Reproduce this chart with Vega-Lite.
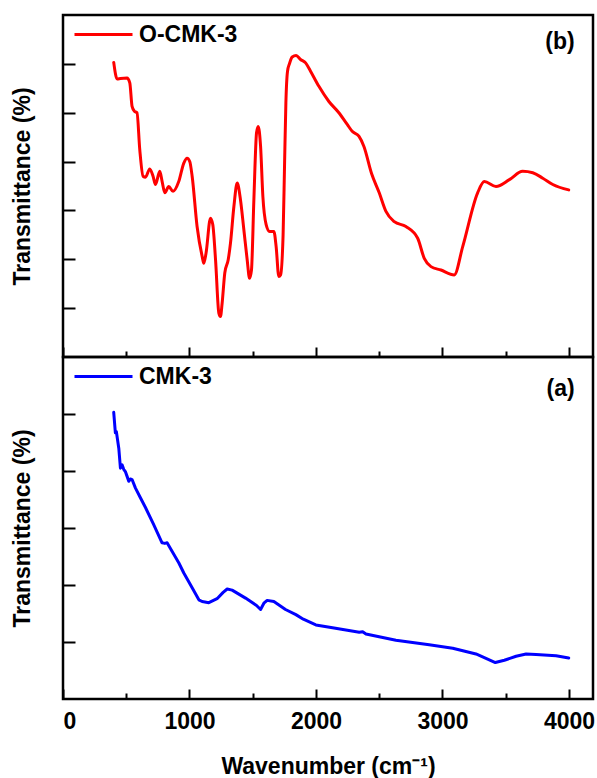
{
  "$schema": "https://vega.github.io/schema/vega-lite/v6.json",
  "padding": {"left": 9, "top": 2, "right": 2, "bottom": 2},
  "config": {
    "font": "Liberation Sans",
    "view": {"stroke": "black", "strokeWidth": 2.5},
    "axis": {"grid": false, "domain": false, "tickColor": "black", "tickWidth": 2, "labelColor": "black", "titleColor": "black", "labelFont": "Liberation Sans", "titleFont": "Liberation Sans", "labelFontWeight": "bold", "titleFontWeight": "bold", "labelFontSize": 23, "titleFontSize": 23},
    "legend": {"orient": "none", "title": null, "symbolType": "stroke", "symbolSize": 3364, "symbolStrokeWidth": 3, "labelFont": "Liberation Sans", "labelFontWeight": "bold", "labelFontSize": 23, "labelColor": "black", "labelOffset": 5, "legendX": 10, "legendY": -11}
  },
  "datasets": {
    "red": [
      {"wn": 401, "t": 5.03}, {"wn": 428, "t": 4.69}, {"wn": 454, "t": 4.7}, {"wn": 506, "t": 4.71}, {"wn": 528, "t": 4.61},
      {"wn": 546, "t": 4.13}, {"wn": 565, "t": 4.03}, {"wn": 585, "t": 4.0}, {"wn": 607, "t": 3.24}, {"wn": 633, "t": 2.7},
      {"wn": 652, "t": 2.68}, {"wn": 686, "t": 2.85}, {"wn": 712, "t": 2.7}, {"wn": 731, "t": 2.53}, {"wn": 765, "t": 2.8},
      {"wn": 783, "t": 2.6}, {"wn": 805, "t": 2.36}, {"wn": 836, "t": 2.49}, {"wn": 870, "t": 2.39}, {"wn": 915, "t": 2.59},
      {"wn": 955, "t": 2.97}, {"wn": 981, "t": 3.07}, {"wn": 1002, "t": 3.0}, {"wn": 1021, "t": 2.7}, {"wn": 1060, "t": 1.67},
      {"wn": 1100, "t": 1.06}, {"wn": 1113, "t": 0.92}, {"wn": 1131, "t": 1.13}, {"wn": 1166, "t": 1.84}, {"wn": 1184, "t": 1.71},
      {"wn": 1206, "t": 0.99}, {"wn": 1232, "t": -0.1}, {"wn": 1245, "t": -0.17}, {"wn": 1258, "t": 0.1}, {"wn": 1279, "t": 0.72},
      {"wn": 1306, "t": 0.99}, {"wn": 1324, "t": 1.33}, {"wn": 1351, "t": 2.08}, {"wn": 1377, "t": 2.56}, {"wn": 1403, "t": 2.22},
      {"wn": 1430, "t": 1.6}, {"wn": 1456, "t": 0.99}, {"wn": 1475, "t": 0.61}, {"wn": 1490, "t": 0.78}, {"wn": 1509, "t": 2.22},
      {"wn": 1530, "t": 3.59}, {"wn": 1543, "t": 3.72}, {"wn": 1562, "t": 3.31}, {"wn": 1580, "t": 2.29}, {"wn": 1606, "t": 1.71},
      {"wn": 1633, "t": 1.57}, {"wn": 1667, "t": 1.57}, {"wn": 1685, "t": 1.26}, {"wn": 1706, "t": 0.65}, {"wn": 1720, "t": 0.68},
      {"wn": 1740, "t": 1.5}, {"wn": 1752, "t": 3.0}, {"wn": 1762, "t": 4.2}, {"wn": 1775, "t": 4.85}, {"wn": 1790, "t": 5.0},
      {"wn": 1812, "t": 5.14}, {"wn": 1843, "t": 5.17}, {"wn": 1878, "t": 5.09}, {"wn": 1918, "t": 5.02}, {"wn": 1957, "t": 4.85},
      {"wn": 2023, "t": 4.54}, {"wn": 2102, "t": 4.23}, {"wn": 2181, "t": 4.0}, {"wn": 2247, "t": 3.76}, {"wn": 2286, "t": 3.62},
      {"wn": 2339, "t": 3.52}, {"wn": 2379, "t": 3.31}, {"wn": 2440, "t": 2.75}, {"wn": 2500, "t": 2.36}, {"wn": 2553, "t": 1.98},
      {"wn": 2619, "t": 1.77}, {"wn": 2711, "t": 1.67}, {"wn": 2804, "t": 1.43}, {"wn": 2856, "t": 1.02}, {"wn": 2909, "t": 0.85},
      {"wn": 2988, "t": 0.78}, {"wn": 3093, "t": 0.68}, {"wn": 3160, "t": 1.26}, {"wn": 3278, "t": 2.36}, {"wn": 3331, "t": 2.59},
      {"wn": 3423, "t": 2.49}, {"wn": 3529, "t": 2.63}, {"wn": 3634, "t": 2.8}, {"wn": 3714, "t": 2.77}, {"wn": 3793, "t": 2.66},
      {"wn": 3872, "t": 2.53}, {"wn": 3998, "t": 2.42}
    ],
    "blue": [
      {"wn": 401, "t": 4.03}, {"wn": 414, "t": 3.67}, {"wn": 422, "t": 3.69}, {"wn": 441, "t": 3.4}, {"wn": 454, "t": 3.05},
      {"wn": 467, "t": 3.11}, {"wn": 480, "t": 3.03}, {"wn": 493, "t": 2.99}, {"wn": 506, "t": 2.91}, {"wn": 520, "t": 2.82},
      {"wn": 533, "t": 2.86}, {"wn": 546, "t": 2.85}, {"wn": 573, "t": 2.7}, {"wn": 612, "t": 2.53}, {"wn": 652, "t": 2.36},
      {"wn": 717, "t": 2.06}, {"wn": 783, "t": 1.74}, {"wn": 805, "t": 1.73}, {"wn": 823, "t": 1.74}, {"wn": 862, "t": 1.59},
      {"wn": 915, "t": 1.39}, {"wn": 955, "t": 1.21}, {"wn": 1021, "t": 0.95}, {"wn": 1074, "t": 0.74}, {"wn": 1100, "t": 0.71},
      {"wn": 1153, "t": 0.69}, {"wn": 1218, "t": 0.76}, {"wn": 1266, "t": 0.87}, {"wn": 1298, "t": 0.93}, {"wn": 1337, "t": 0.91},
      {"wn": 1443, "t": 0.77}, {"wn": 1530, "t": 0.64}, {"wn": 1562, "t": 0.57}, {"wn": 1588, "t": 0.68}, {"wn": 1614, "t": 0.73},
      {"wn": 1667, "t": 0.71}, {"wn": 1759, "t": 0.57}, {"wn": 1841, "t": 0.48}, {"wn": 1900, "t": 0.4}, {"wn": 1999, "t": 0.3},
      {"wn": 2131, "t": 0.25}, {"wn": 2342, "t": 0.17}, {"wn": 2369, "t": 0.18}, {"wn": 2395, "t": 0.14}, {"wn": 2632, "t": 0.03},
      {"wn": 2895, "t": -0.05}, {"wn": 3081, "t": -0.11}, {"wn": 3265, "t": -0.21}, {"wn": 3357, "t": -0.3}, {"wn": 3418, "t": -0.36},
      {"wn": 3489, "t": -0.32}, {"wn": 3582, "t": -0.25}, {"wn": 3661, "t": -0.21}, {"wn": 3740, "t": -0.22}, {"wn": 3898, "t": -0.24},
      {"wn": 3998, "t": -0.28}
    ]
  },
  "bounds": "flush",
  "spacing": 0,
  "vconcat": [
    {
      "width": 530,
      "height": 342,
      "layer": [
        {
          "data": {"name": "red"},
          "mark": {"type": "line", "strokeWidth": 3, "interpolate": "monotone", "strokeJoin": "round", "strokeCap": "round"},
          "encoding": {
            "x": {"field": "wn", "type": "quantitative", "scale": {"domain": [0, 4190], "nice": false},
                  "axis": {"title": null, "labels": false, "values": [0, 500, 1000, 1500, 2000, 2500, 3000, 3500, 4000],
                           "tickSize": {"condition": {"test": "datum.value % 1000 === 0", "value": -10}, "value": -6}}},
            "y": {"field": "t", "type": "quantitative", "scale": {"domain": [-1, 6], "nice": false, "zero": false},
                  "axis": {"title": "Transmittance (%)", "labels": false, "values": [0, 1, 2, 3, 4, 5], "tickSize": 12, "offset": -12, "titlePadding": 28}},
            "color": {"datum": "O-CMK-3", "type": "nominal", "scale": {"domain": ["O-CMK-3"], "range": ["#ff0000"]}}
          }
        },
        {
          "data": {"values": [{"label": "(b)"}]},
          "mark": {"type": "text", "align": "right", "baseline": "middle", "fontSize": 23, "fontWeight": "bold", "font": "Liberation Sans", "color": "black"},
          "encoding": {
            "x": {"datum": 4045, "type": "quantitative"},
            "y": {"datum": 5.44, "type": "quantitative"},
            "text": {"field": "label"}
          }
        }
      ]
    },
    {
      "width": 530,
      "height": 342,
      "layer": [
        {
          "data": {"name": "blue"},
          "mark": {"type": "line", "strokeWidth": 3, "strokeJoin": "round", "strokeCap": "round"},
          "encoding": {
            "x": {"field": "wn", "type": "quantitative", "scale": {"domain": [0, 4190], "nice": false},
                  "axis": {"title": "Wavenumber (cm⁻¹)", "values": [0, 500, 1000, 1500, 2000, 2500, 3000, 3500, 4000],
                           "labelExpr": "datum.value % 1000 === 0 ? datum.label : ''", "format": "d", "labelPadding": 21, "titlePadding": 22,
                           "tickSize": {"condition": {"test": "datum.value % 1000 === 0", "value": -10}, "value": -6}}},
            "y": {"field": "t", "type": "quantitative", "scale": {"domain": [-1, 5], "nice": false, "zero": false},
                  "axis": {"title": "Transmittance (%)", "labels": false, "values": [0, 1, 2, 3, 4], "tickSize": 12, "offset": -12, "titlePadding": 28}},
            "color": {"datum": "CMK-3", "type": "nominal", "scale": {"domain": ["CMK-3"], "range": ["#0000ff"]}}
          }
        },
        {
          "data": {"values": [{"label": "(a)"}]},
          "mark": {"type": "text", "align": "right", "baseline": "middle", "fontSize": 23, "fontWeight": "bold", "font": "Liberation Sans", "color": "black"},
          "encoding": {
            "x": {"datum": 4045, "type": "quantitative"},
            "y": {"datum": 4.43, "type": "quantitative"},
            "text": {"field": "label"}
          }
        }
      ]
    }
  ],
  "resolve": {"scale": {"color": "independent", "y": "independent"}, "legend": {"color": "independent"}}
}
